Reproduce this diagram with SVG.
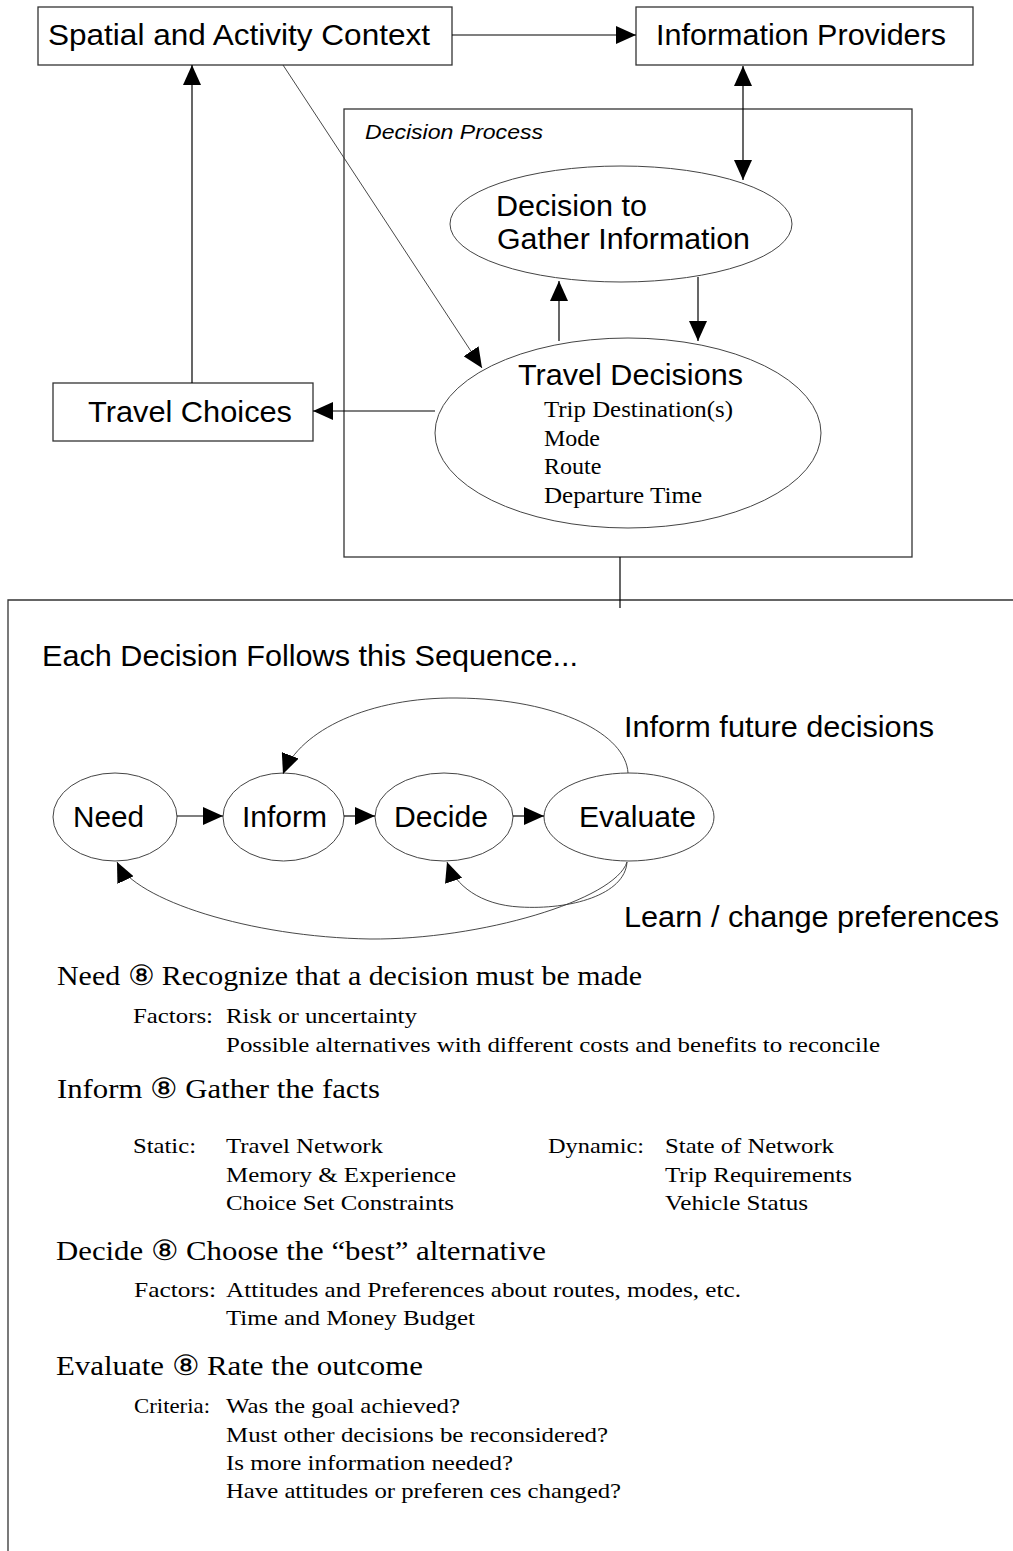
<svg xmlns="http://www.w3.org/2000/svg" width="1013" height="1551" viewBox="0 0 1013 1551">
<style>
.box{fill:#fff;stroke:#333;stroke-width:1.3}
.frame{fill:none;stroke:#333;stroke-width:1.3}
.ell{fill:#fff;stroke:#444;stroke-width:1}
.lbl{font-family:"Liberation Sans",Arial,sans-serif;font-size:29px;fill:#000}
.ital{font-family:"Liberation Sans",Arial,sans-serif;font-size:20px;font-style:italic;fill:#000}
.tr{font-family:"Liberation Serif","Times New Roman",serif;font-size:24px;fill:#000}
.hd{font-family:"Liberation Serif","Times New Roman",serif;font-size:28px;fill:#000}
.sb{font-family:"Liberation Serif","Times New Roman",serif;font-size:21px;fill:#000}
.con{fill:none;stroke:#000;stroke-width:1.2}
.thin{fill:none;stroke:#333;stroke-width:0.9}
</style>
<defs>
<marker id="ah" markerUnits="userSpaceOnUse" markerWidth="20" markerHeight="18" refX="20" refY="9" orient="auto-start-reverse">
<path d="M0,0 L20,9 L0,18 z" fill="#000"/>
</marker>
</defs>

<rect class="frame" x="344" y="109" width="568" height="448"/>
<text class="ital" x="365" y="139" textLength="178" lengthAdjust="spacingAndGlyphs">Decision Process</text>
<path class="frame" d="M8,1551 V600 H1013"/>

<g id="spatial">
<rect class="box" x="38" y="7" width="414" height="58"/>
<text class="lbl" x="48" y="45" textLength="382" lengthAdjust="spacingAndGlyphs">Spatial and Activity Context</text>
</g>
<g id="providers">
<rect class="box" x="636" y="7" width="337" height="58"/>
<text class="lbl" x="656" y="45" textLength="290" lengthAdjust="spacingAndGlyphs">Information Providers</text>
</g>
<g id="choices">
<rect class="box" x="53" y="383" width="260" height="58"/>
<text class="lbl" x="88" y="422" textLength="204" lengthAdjust="spacingAndGlyphs">Travel Choices</text>
</g>
<g id="gather">
<ellipse class="ell" cx="621" cy="224" rx="171" ry="58"/>
<text class="lbl" x="496" y="216" textLength="151" lengthAdjust="spacingAndGlyphs">Decision to</text>
<text class="lbl" x="497" y="249" textLength="253" lengthAdjust="spacingAndGlyphs">Gather Information</text>
</g>
<g id="travel-decisions">
<ellipse class="ell" cx="628" cy="433" rx="193" ry="95"/>
<text class="lbl" x="518" y="385" textLength="225" lengthAdjust="spacingAndGlyphs">Travel Decisions</text>
<text class="tr" x="544" y="417" textLength="189" lengthAdjust="spacingAndGlyphs">Trip Destination(s)</text>
<text class="tr" x="544" y="446">Mode</text>
<text class="tr" x="544" y="474">Route</text>
<text class="tr" x="544" y="503" textLength="158" lengthAdjust="spacingAndGlyphs">Departure Time</text>
</g>

<text class="lbl" x="42" y="666" textLength="536" lengthAdjust="spacingAndGlyphs">Each Decision Follows this Sequence...</text>

<g id="need">
<ellipse class="ell" cx="115" cy="817" rx="62" ry="44"/>
<text class="lbl" x="73" y="827" textLength="71" lengthAdjust="spacingAndGlyphs">Need</text>
</g>
<g id="inform">
<ellipse class="ell" cx="283.5" cy="817" rx="60.5" ry="44"/>
<text class="lbl" x="242" y="827" textLength="85" lengthAdjust="spacingAndGlyphs">Inform</text>
</g>
<g id="decide">
<ellipse class="ell" cx="444" cy="817" rx="69" ry="44"/>
<text class="lbl" x="394" y="827" textLength="94" lengthAdjust="spacingAndGlyphs">Decide</text>
</g>
<g id="evaluate">
<ellipse class="ell" cx="629" cy="817" rx="85" ry="44"/>
<text class="lbl" x="579" y="827" textLength="117" lengthAdjust="spacingAndGlyphs">Evaluate</text>
</g>

<text class="lbl" x="624" y="737" textLength="310" lengthAdjust="spacingAndGlyphs">Inform future decisions</text>
<text class="lbl" x="624" y="927" textLength="375" lengthAdjust="spacingAndGlyphs">Learn / change preferences</text>

<g id="connectors">
<line class="con" x1="452" y1="35" x2="636" y2="35" marker-end="url(#ah)"/>
<line class="con" x1="743" y1="66" x2="743" y2="180" marker-start="url(#ah)" marker-end="url(#ah)"/>
<line class="con" x1="192" y1="383" x2="192" y2="65" marker-end="url(#ah)"/>
<line class="thin" x1="283" y1="65" x2="482" y2="368" marker-end="url(#ah)"/>
<line class="con" x1="435" y1="411" x2="313" y2="411" marker-end="url(#ah)"/>
<line class="con" x1="559" y1="341" x2="559" y2="281" marker-end="url(#ah)"/>
<line class="con" x1="698" y1="277" x2="698" y2="341" marker-end="url(#ah)"/>
<line class="con" x1="620" y1="557" x2="620" y2="608"/>
<line class="con" x1="177" y1="816" x2="223" y2="816" marker-end="url(#ah)"/>
<line class="con" x1="344" y1="816" x2="375" y2="816" marker-end="url(#ah)"/>
<line class="con" x1="513" y1="816" x2="544" y2="816" marker-end="url(#ah)"/>
<path class="thin" d="M628,773 C626,735 560,699 457,698 C370,697 300,730 283,774" marker-end="url(#ah)"/>
<path class="thin" d="M627,862 C625,895 570,910 520,907 C480,905 455,885 447,862" marker-end="url(#ah)"/>
<path class="thin" d="M627,862 C615,900 480,940 370,939 C250,937 135,900 117,862" marker-end="url(#ah)"/>
</g>

<g id="details">
<text class="hd" x="57" y="985" textLength="585" lengthAdjust="spacingAndGlyphs">Need ⑧ Recognize that a decision must be made</text>
<text class="sb" x="133" y="1023" textLength="80" lengthAdjust="spacingAndGlyphs">Factors:</text>
<text class="sb" x="226" y="1023" textLength="191" lengthAdjust="spacingAndGlyphs">Risk or uncertainty</text>
<text class="sb" x="226" y="1052" textLength="654" lengthAdjust="spacingAndGlyphs">Possible alternatives with different costs and benefits to reconcile</text>

<text class="hd" x="57" y="1098" textLength="323" lengthAdjust="spacingAndGlyphs">Inform ⑧ Gather the facts</text>
<text class="sb" x="133" y="1153" textLength="63" lengthAdjust="spacingAndGlyphs">Static:</text>
<text class="sb" x="226" y="1153" textLength="157" lengthAdjust="spacingAndGlyphs">Travel Network</text>
<text class="sb" x="226" y="1182" textLength="230" lengthAdjust="spacingAndGlyphs">Memory &amp; Experience</text>
<text class="sb" x="226" y="1210" textLength="228" lengthAdjust="spacingAndGlyphs">Choice Set Constraints</text>
<text class="sb" x="548" y="1153" textLength="96" lengthAdjust="spacingAndGlyphs">Dynamic:</text>
<text class="sb" x="665" y="1153" textLength="169" lengthAdjust="spacingAndGlyphs">State of Network</text>
<text class="sb" x="665" y="1182" textLength="187" lengthAdjust="spacingAndGlyphs">Trip Requirements</text>
<text class="sb" x="665" y="1210" textLength="143" lengthAdjust="spacingAndGlyphs">Vehicle Status</text>

<text class="hd" x="56" y="1260" textLength="490" lengthAdjust="spacingAndGlyphs">Decide ⑧ Choose the “best” alternative</text>
<text class="sb" x="134" y="1297" textLength="82" lengthAdjust="spacingAndGlyphs">Factors:</text>
<text class="sb" x="226" y="1297" textLength="515" lengthAdjust="spacingAndGlyphs">Attitudes and Preferences about routes, modes, etc.</text>
<text class="sb" x="226" y="1325" textLength="249" lengthAdjust="spacingAndGlyphs">Time and Money Budget</text>

<text class="hd" x="56" y="1375" textLength="367" lengthAdjust="spacingAndGlyphs">Evaluate ⑧ Rate the outcome</text>
<text class="sb" x="134" y="1413" textLength="76" lengthAdjust="spacingAndGlyphs">Criteria:</text>
<text class="sb" x="226" y="1413" textLength="234" lengthAdjust="spacingAndGlyphs">Was the goal achieved?</text>
<text class="sb" x="226" y="1442" textLength="382" lengthAdjust="spacingAndGlyphs">Must other decisions be reconsidered?</text>
<text class="sb" x="226" y="1470" textLength="287" lengthAdjust="spacingAndGlyphs">Is more information needed?</text>
<text class="sb" x="226" y="1498" textLength="395" lengthAdjust="spacingAndGlyphs">Have attitudes or preferen ces changed?</text>
</g>
</svg>
